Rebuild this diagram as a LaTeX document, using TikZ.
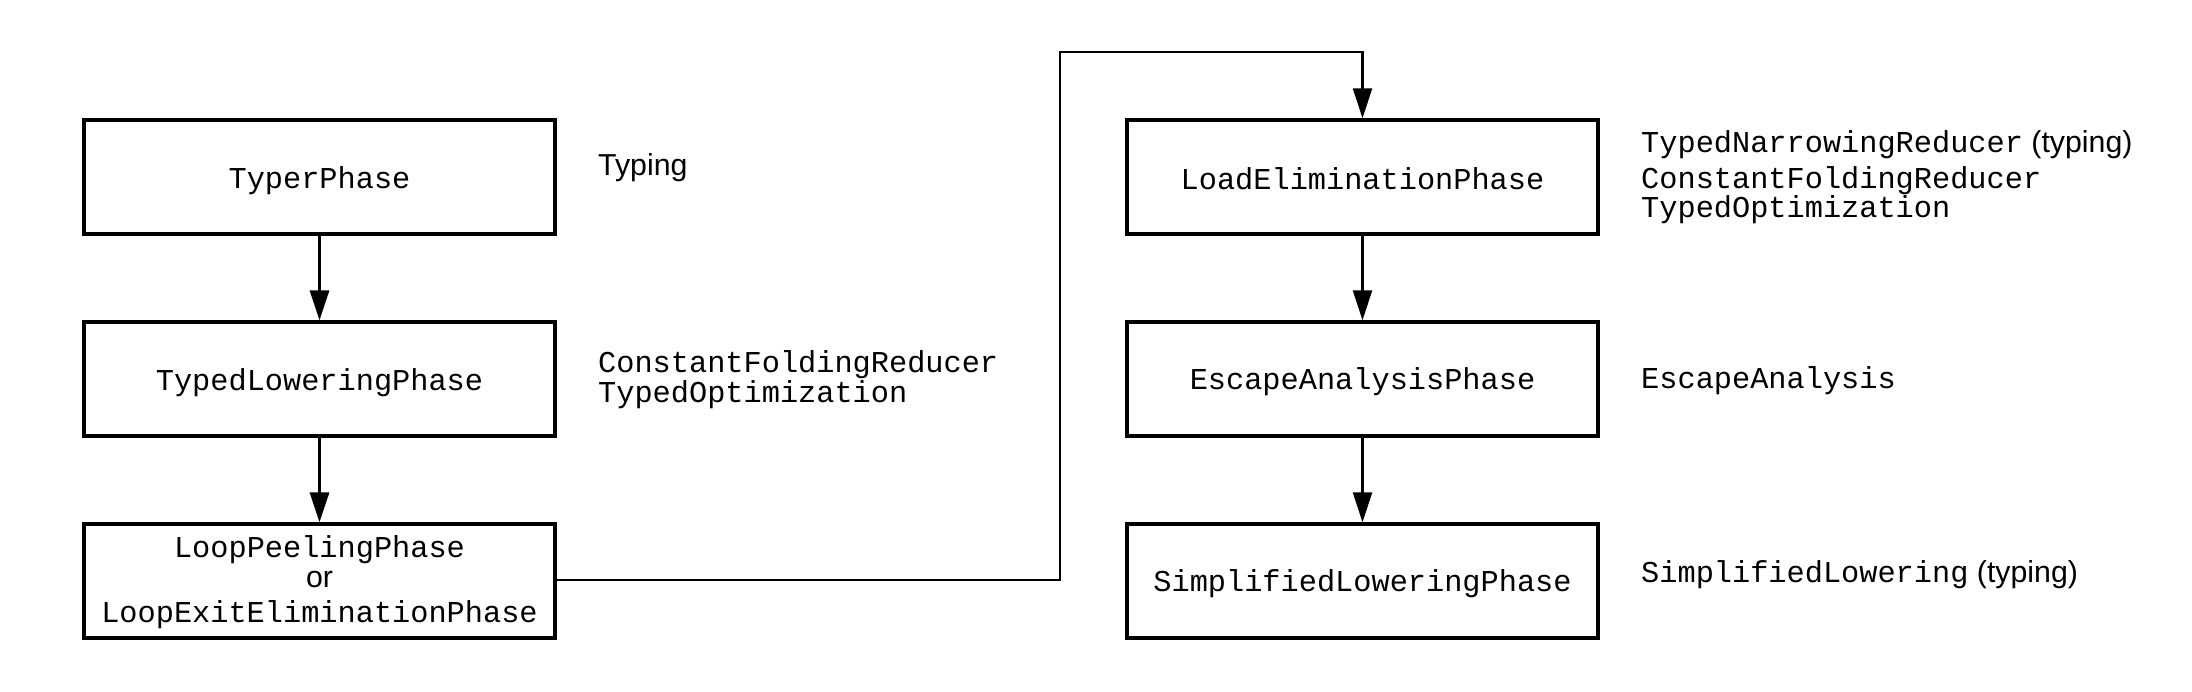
\documentclass[tikz,border=0pt]{standalone}
\usepackage{fontspec}
\setmainfont{Liberation Sans}
\setmonofont{Liberation Mono}
\usetikzlibrary{arrows.meta}
\newcommand{\lowr}[2]{\raisebox{-#1pt}[\height][\depth]{#2}}
\begin{document}
\begin{tikzpicture}[x=1pt,y=-1pt,
  phase/.style={draw,line width=3.4pt,minimum width=471pt,minimum height=114pt,inner sep=0pt,
    font=\fontsize{30.3}{34.5}\selectfont\ttfamily,align=center},
  lab/.style={anchor=west,inner sep=0pt,font=\fontsize{30.3}{34}\selectfont},
  thickarrow/.style={line width=3.4pt,-{Triangle[length=30pt,width=19pt]}},
  thinarrow/.style={line width=2.3pt,-{Triangle[length=30pt,width=19pt]}},
]
\useasboundingbox (0,0) rectangle (2192,692);
\node[phase] (typer) at (319.5,177) {\lowr{4}{TyperPhase}};
\node[phase] (tlow) at (319.5,379) {\lowr{4}{TypedLoweringPhase}};
\node[phase] (loop) at (319.5,581) {\lowr{2}{\begin{tabular}{@{}c@{}}LoopPeelingPhase\\[-4pt]{\rmfamily or}\\LoopExitEliminationPhase\end{tabular}}};
\node[phase] (load) at (1362.5,177) {\lowr{1.5}{LoadEliminationPhase}};
\node[phase] (esc) at (1362.5,379) {\lowr{3}{EscapeAnalysisPhase}};
\node[phase] (simp) at (1362.5,581) {\lowr{2.5}{SimplifiedLoweringPhase}};

\node[lab] (l1) at (598,168) {Typing};
\node[lab] (l2) at (598,365) {\ttfamily ConstantFoldingReducer};
\node[lab] (l3) at (598,395) {\ttfamily TypedOptimization};
\node[lab] (r1) at (1641,144.5) {\ttfamily TypedNarrowingReducer\rmfamily\ (typing)};
\node[lab] (r2) at (1641,180.5) {\ttfamily ConstantFoldingReducer};
\node[lab] (r3) at (1641,209.5) {\ttfamily TypedOptimization};
\node[lab] (r4) at (1641,381) {\ttfamily EscapeAnalysis};
\node[lab] (r5) at (1641,574.5) {\ttfamily SimplifiedLowering\rmfamily\ (typing)};

\coordinate (c1) at (1060,580);
\coordinate (c2) at (1060,52);
\coordinate (c3) at (1362.5,52);

\draw[thickarrow] (typer.south) -- (tlow.north);
\draw[thickarrow] (tlow.south) -- (loop.north);
\draw[thinarrow] (load.south) -- (esc.north);
\draw[thinarrow] (esc.south) -- (simp.north);
\draw[thinarrow] (loop.east |- c1) -- (c1) -- (c2) -- (c3) -- (load.north);
\end{tikzpicture}
\end{document}
